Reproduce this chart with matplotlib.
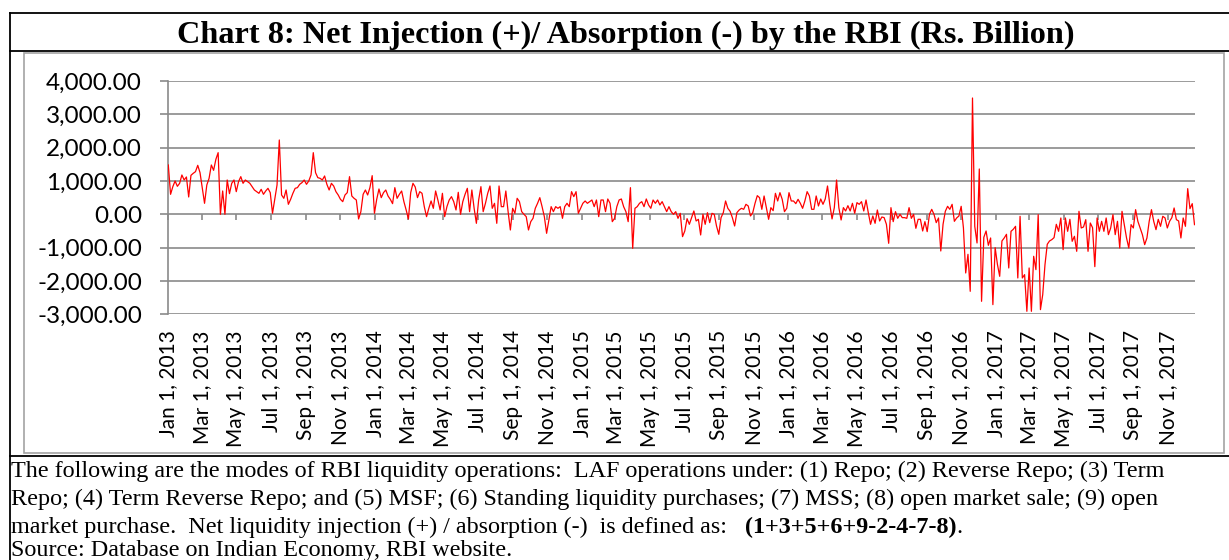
import numpy as np
import pandas as pd
import matplotlib
matplotlib.use("Agg")
import matplotlib.pyplot as plt
import matplotlib.ticker as mticker
import matplotlib.dates as mdates

# net injection (+) / absorption (-), Rs. billion, every 4 days from 1 Jan 2013
net_liquidity = [
    1480, 600, 830, 1000, 840, 930, 1180, 1030, 1120, 520,
    1170, 1230, 1280, 1470, 1250, 800, 330, 880, 1080, 1480,
    1320, 1650, 1850, 0, 700, 0, 1030, 620, 930, 1030,
    680, 980, 1130, 930, 1030, 980, 930, 830, 730, 680,
    630, 750, 600, 700, 780, 650, 30, 450, 880, 2230,
    580, 480, 730, 300, 450, 630, 780, 800, 900, 950,
    1030, 900, 1000, 1180, 1850, 1250, 1100, 1080, 1030, 1150,
    900, 730, 930, 850, 680, 580, 450, 380, 580, 650,
    1130, 550, 480, 430, -140, 80, 600, 730, 580, 800,
    1160, 30, 450, 760, 500, 650, 730, 550, 450, 320,
    800, 480, 600, 700, 380, 130, -140, 650, 930, 820,
    500, 680, 630, 230, -70, 180, 400, 180, 700, 430,
    130, 630, -70, 230, 430, 530, 380, 130, 660, 0,
    380, 600, 780, 80, 730, 180, -270, 430, 830, 80,
    330, 630, 850, 180, 330, -270, 850, 230, 230, 700,
    80, -470, 180, 30, 480, 380, 80, 0, -70, -470,
    -220, -120, 180, 330, 500, 230, -70, -570, -170, 230,
    80, 230, 180, 230, -120, 230, 330, 230, 680, 530,
    680, 30, 180, 330, 400, 330, 380, 430, 230, 430,
    -70, 430, 430, 80, 460, 330, -220, -120, 230, 430,
    460, 230, 80, -220, 800, -1020, 180, 230, 330, 380,
    230, 460, 280, 180, 430, 330, 430, 280, 380, 230,
    80, 230, 80, 0, 80, -120, 30, -670, -500, -130,
    -300, -100, 100, -200, -150, -620, 0, -300, 50, -250,
    30, 0, -350, -600, -100, 50, 400, 180, 90, -100,
    -350, 50, 130, 180, 150, 300, 250, -50, 50, 330,
    560, 500, 150, 550, 200, -150, 200, 110, 630, 400,
    650, 450, 80, 180, 650, 400, 400, 320, 450, 330,
    180, 400, 680, 550, 150, 150, 550, 250, 460, 300,
    460, 850, 300, -140, 200, 1030, 200, -170, 200, 100,
    260, 100, 330, 30, 350, 300, 380, 100, 430, 50,
    -300, -50, -270, 130, -200, -80, -100, -300, -870, 200,
    -220, 80, -120, 0, -100, -100, -120, 200, -120, 0,
    -420, -150, -150, -500, -220, -520, 0, 150, 0, -250,
    -110, -1100, -300, 90, 240, 150, 300, -210, -110, -50,
    240, -410, -1760, -1200, -2310, 3490, -360, -860, 1360, -2610,
    -690, -500, -930, -710, -2710, -1000, -1500, -1860, -800, -710,
    -600, -1610, -510, -450, -360, -1910, -60, -1910, -1810, -2910,
    -1610, -2910, -1260, -1660, -10, -2860, -2410, -1510, -900, -800,
    -760, -700, -300, -510, -110, -1060, -110, -510, -150, -810,
    -660, -1110, 90, -410, -380, -160, -1110, -260, -400, -1570,
    -110, -510, -210, -510, -110, -610, -410, -10, -610, -210,
    -1010, 90, -310, -710, -1010, -310, -410, 140, -210, -410,
    -610, -910, -710, -210, 140, -210, -460, -150, -360, -60,
    -110, -410, -210, -100, 190, -160, -200, -710, -110, -360,
    770, 170, 320, -310,
]
dates = pd.date_range("2013-01-01", periods=len(net_liquidity), freq="4D")

tick_dates = pd.date_range("2013-01-01", "2017-11-01", freq="2MS")
tick_labels = [f"{d:%b} {d.day}, {d.year}" for d in tick_dates]
y_ticks = [-3000, -2000, -1000, 0, 1000, 2000, 3000, 4000]

title = "Chart 8: Net Injection (+)/ Absorption (-) by the RBI (Rs. Billion)"
note_lines = [
    "The following are the modes of RBI liquidity operations:  LAF operations under: (1) Repo; (2) Reverse Repo; (3) Term",
    "Repo; (4) Term Reverse Repo; and (5) MSF; (6) Standing liquidity purchases; (7) MSS; (8) open market sale; (9) open",
    "market purchase.  Net liquidity injection (+) / absorption (-)  is defined as:   ",
    "Source: Database on Indian Economy, RBI website.",
]
formula = "(1+3+5+6+9-2-4-7-8)"

W, H = 1229, 560
grid_col = "#8a8a8a"
frame_col = "#a3a3a3"
serif = "Liberation Serif"
sans = "Lato"
note_size = 17.4

fig = plt.figure(figsize=(W / 100, H / 100), dpi=100)

# overlay for the boxes and the text, in pixel units
bg = fig.add_axes([0, 0, 1, 1])
bg.set_xlim(0, W)
bg.set_ylim(H, 0)
bg.axis("off")
# black table lines
bg.plot([9.5, W + 5], [12.7, 12.7], color="black", lw=1.3)
bg.plot([9.5, W + 5], [50.7, 50.7], color="black", lw=1.3)
bg.plot([9.5, W + 5], [456, 456], color="black", lw=1.3)
bg.plot([9.5, 9.5], [12.7, H + 5], color="black", lw=1.3)
# grey chart-area frame
bg.add_patch(plt.Rectangle((23.7, 52.5), 1224 - 23.7, 453 - 52.5, fill=False,
                           edgecolor=frame_col, lw=1.2))

bg.text(626, 43, title, fontsize=23.2, fontweight="bold", family=serif,
        ha="center", va="baseline")

baselines = [477, 505, 533, 556]
for i, line in enumerate(note_lines):
    t = bg.text(11, baselines[i], line, fontsize=note_size, family=serif,
                ha="left", va="baseline")
    if i == 2:
        t2 = bg.annotate(formula, xy=(1, 0), xycoords=t, fontsize=note_size,
                         family=serif, fontweight="bold", ha="left", va="bottom")
        bg.annotate(".", xy=(1, 0), xycoords=t2, fontsize=note_size, family=serif,
                    ha="left", va="bottom")

# the plot itself
left, right, top, bottom = 168.3, 1194.5, 81, 314.3
ax = fig.add_axes([left / W, 1 - bottom / H, (right - left) / W, (bottom - top) / H])
ax.plot(dates, net_liquidity, color="#ff0000", lw=0.9, zorder=3)

ax.set_ylim(-3000, 4000)
ax.set_yticks(y_ticks)
ax.yaxis.set_major_formatter(mticker.FuncFormatter(lambda v, p: f"{v:,.2f}"))
ax.set_xlim(dates[0], dates[-1])
ax.set_xticks(tick_dates)
ax.set_xticklabels(tick_labels, rotation=90)

ax.grid(axis="y", color=grid_col, lw=1.2, zorder=1)
ax.set_axisbelow(True)
for s in ["top", "right", "bottom"]:
    ax.spines[s].set_visible(False)
ax.spines["left"].set_color(grid_col)
ax.spines["left"].set_linewidth(1.2)

ax.tick_params(axis="y", length=6, width=1.2, color=grid_col, pad=13,
               labelsize=17.5)
ax.tick_params(axis="x", length=0, pad=11.5, labelsize=15)
for lab in ax.get_xticklabels() + ax.get_yticklabels():
    lab.set_family(sans)

# small tick marks on the zero line, like the horizontal axis crossing at 0
zero_frac = (0 - y_ticks[0]) / (y_ticks[-1] - y_ticks[0])
sec = ax.secondary_xaxis(zero_frac)
sec.set_xticks(mdates.date2num(tick_dates))
sec.tick_params(axis="x", direction="out", length=4.5, width=1.2,
                color=grid_col, labelbottom=False, labeltop=False)
for s in sec.spines.values():
    s.set_visible(False)

fig.savefig("out.png", dpi=100)
